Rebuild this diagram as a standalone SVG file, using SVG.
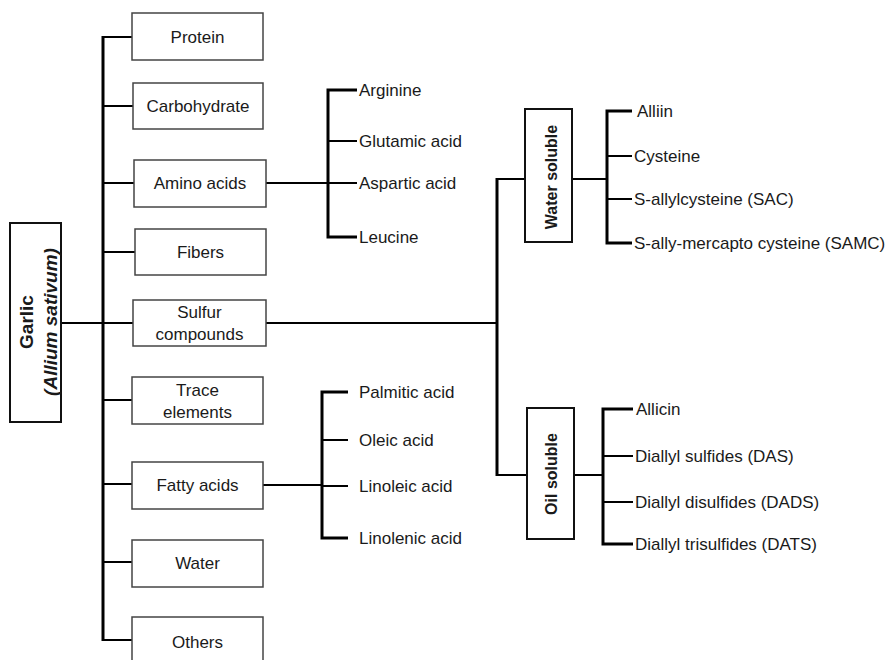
<svg xmlns="http://www.w3.org/2000/svg" width="893" height="660" viewBox="0 0 893 660">
<style>
.box{fill:#fff;stroke:#444;stroke-width:1.5}
.vbox{fill:#fff;stroke:#111;stroke-width:2}
.t{font-family:"Liberation Sans",Arial,sans-serif;font-size:17px;fill:#1a1a1a}
.c{text-anchor:middle}
.b{font-weight:bold}
.trunk{stroke:#000;stroke-width:3;fill:none}
.tick{stroke:#000;stroke-width:2;fill:none}
</style>
<rect width="893" height="660" fill="#fff"/>
<g id="connectors">
<line class="trunk" x1="103" y1="36" x2="103" y2="641"/>
<path class="tick" d="M61 323H133 M103 37H132 M103 106H133 M103 183H134 M103 252H135 M103 400H132 M103 484H132 M103 562H132 M103 640H132"/>
<path class="tick" d="M266 183H328 M263 485H322 M266 323H497 M497 179H525 M497 475H527 M572 179H607 M574 475H603"/>
<path class="trunk" d="M357 90H328V237H357 M348 392H322V538H348 M497 178V476 M632 111H607V243H632 M633 409H603V544H633"/>
<path class="tick" d="M328 141H357 M328 183H357 M322 440H348 M322 486H348 M607 156H632 M607 199H632 M603 456H633 M603 502H633"/>
</g>
<g id="garlic">
<rect class="vbox" x="10" y="223" width="51" height="199"/>
<g transform="translate(36,322) rotate(-90)">
<text class="t c b" x="0" y="-3" style="font-size:19px">Garlic</text>
<text class="t c b" x="0" y="21" style="font-size:19px;font-style:italic">(Allium  sativum)</text>
</g>
</g>
<g id="protein"><rect class="box" x="132" y="13" width="131" height="47"/><text class="t c" x="197.5" y="43">Protein</text></g>
<g id="carbohydrate"><rect class="box" x="133" y="83" width="130" height="46"/><text class="t c" x="198" y="112">Carbohydrate</text></g>
<g id="amino-acids"><rect class="box" x="134" y="160" width="132" height="47"/><text class="t c" x="200" y="189">Amino acids</text></g>
<g id="fibers"><rect class="box" x="135" y="229" width="131" height="46"/><text class="t c" x="200.5" y="258">Fibers</text></g>
<g id="sulfur-compounds"><rect class="box" x="133" y="300" width="133" height="46"/><text class="t c" x="199.5" y="318">Sulfur</text><text class="t c" x="199.5" y="340">compounds</text></g>
<g id="trace-elements"><rect class="box" x="132" y="377" width="131" height="47"/><text class="t c" x="197.5" y="396">Trace</text><text class="t c" x="197.5" y="418">elements</text></g>
<g id="fatty-acids"><rect class="box" x="132" y="462" width="131" height="47"/><text class="t c" x="197.5" y="491">Fatty acids</text></g>
<g id="water"><rect class="box" x="132" y="540" width="131" height="47"/><text class="t c" x="197.5" y="569">Water</text></g>
<g id="others"><rect class="box" x="132" y="617" width="131" height="50"/><text class="t c" x="197.5" y="648">Others</text></g>
<g id="amino-list">
<text class="t" x="359" y="96">Arginine</text>
<text class="t" x="359" y="147">Glutamic acid</text>
<text class="t" x="359" y="189">Aspartic acid</text>
<text class="t" x="359" y="243">Leucine</text>
</g>
<g id="fatty-list">
<text class="t" x="359" y="398">Palmitic acid</text>
<text class="t" x="359" y="446">Oleic acid</text>
<text class="t" x="359" y="492">Linoleic acid</text>
<text class="t" x="359" y="544">Linolenic acid</text>
</g>
<g id="water-soluble">
<rect class="vbox" x="525" y="109" width="47" height="133"/>
<text class="t c b" transform="translate(557,177) rotate(-90)" x="0" y="0" style="font-size:16px">Water soluble</text>
</g>
<g id="oil-soluble">
<rect class="vbox" x="527" y="408" width="47" height="131"/>
<text class="t c b" transform="translate(557,474) rotate(-90)" x="0" y="0" style="font-size:16px">Oil soluble</text>
</g>
<g id="water-list">
<text class="t" x="637" y="117">Alliin</text>
<text class="t" x="634" y="162">Cysteine</text>
<text class="t" x="634" y="205">S-allylcysteine (SAC)</text>
<text class="t" x="634" y="249">S-ally-mercapto cysteine (SAMC)</text>
</g>
<g id="oil-list">
<text class="t" x="636" y="415">Allicin</text>
<text class="t" x="635" y="462">Diallyl sulfides (DAS)</text>
<text class="t" x="635" y="508">Diallyl disulfides (DADS)</text>
<text class="t" x="635" y="550">Diallyl trisulfides (DATS)</text>
</g>
</svg>
